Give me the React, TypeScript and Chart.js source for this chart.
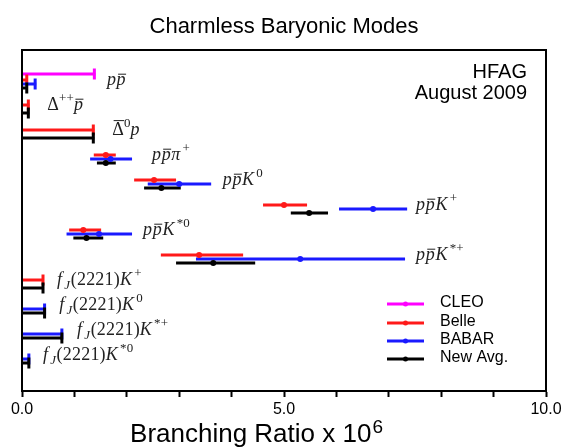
import React, { useEffect, useRef } from "react";
import { Chart, registerables } from "chart.js";

Chart.register(...registerables);

// ---- Data ----
const N = null;
const modeLabels = [
  "p~p",
  "Δ^{++}~p",
  "~Δ^{0}p",
  "p~pπ^{+}",
  "p~pK^{0}",
  "p~pK^{+}",
  "p~pK^{*0}",
  "p~pK^{*+}",
  "f_{J}(2221)K^{+}",
  "f_{J}(2221)K^{0}",
  "f_{J}(2221)K^{*+}",
  "f_{J}(2221)K^{*0}",
];
// label anchor (left edge) in branching-ratio units
const labelX = [1.62, 0.48, 1.72, 2.48, 3.83, 7.52, 2.31, 7.52, 0.67, 0.71, 1.05, 0.4];

const experiments = ["CLEO", "Belle", "BABAR", "New Avg."];

const cleoCentral = [N, N, N, N, N, N, N, N, N, N, N, N];
const cleoLow = [N, N, N, N, N, N, N, N, N, N, N, N];
const cleoHigh = [N, N, N, N, N, N, N, N, N, N, N, N];
const cleoLimit = [1.4, N, N, N, N, N, N, N, N, N, N, N];

const belleCentral = [N, N, N, 1.6, 2.52, 5.0, 1.17, 3.38, N, N, N, N];
const belleLow = [N, N, N, 1.37, 2.14, 4.6, 0.9, 2.65, N, N, N, N];
const belleHigh = [N, N, N, 1.79, 2.94, 5.44, 1.51, 4.22, N, N, N, N];
const belleLimit = [0.11, 0.14, 1.38, N, N, N, N, N, 0.42, N, N, N];

const babarCentral = [N, N, N, 1.69, 3.0, 6.7, 1.47, 5.31, N, N, N, N];
const babarLow = [N, N, N, 1.3, 2.4, 6.05, 0.85, 3.32, N, N, N, N];
const babarHigh = [N, N, N, 2.1, 3.61, 7.35, 2.1, 7.31, N, N, N, N];
const babarLimit = [0.27, N, N, N, N, N, N, N, N, 0.45, 0.78, 0.15];

const avgCentral = [N, N, N, 1.6, 2.66, 5.48, 1.23, 3.65, N, N, N, N];
const avgLow = [N, N, N, 1.43, 2.33, 5.13, 0.98, 2.94, N, N, N, N];
const avgHigh = [N, N, N, 1.79, 3.03, 5.84, 1.55, 4.45, N, N, N, N];
const avgLimit = [0.11, 0.14, 1.38, N, N, N, N, N, 0.42, 0.45, 0.78, 0.15];

const xLabeledTicks = [0, 5, 10];

const titleText = "Charmless Baryonic Modes";
const axisText = "Branching Ratio x 10";
const axisSup = "6";
const noteLines = ["HFAG", "August 2009"];

// ---- Styling ----
const colors = ["#ff00ff", "#ff1a1a", "#1a1aff", "#000000"];
const rowOffsets = [-0.4, -0.16, 0, 0.16];
const ROW_BASE = 1.36;
const Y_MAX = 13.64;

const expData = [
  { central: cleoCentral, low: cleoLow, high: cleoHigh, limit: cleoLimit },
  { central: belleCentral, low: belleLow, high: belleHigh, limit: belleLimit },
  { central: babarCentral, low: babarLow, high: babarHigh, limit: babarLimit },
  { central: avgCentral, low: avgLow, high: avgHigh, limit: avgLimit },
];

function drawRich(ctx: CanvasRenderingContext2D, src: string, x: number, y: number, size: number) {
  const tokens: { ch: string; mode: string; over: boolean }[] = [];
  let mode = "n";
  let over = false;
  let i = 0;
  while (i < src.length) {
    const c = src[i];
    if (c === "^" || c === "_") {
      mode = c === "^" ? "sup" : "sub";
      i += 2;
      continue;
    }
    if (c === "}") {
      mode = "n";
      i++;
      continue;
    }
    if (c === "~") {
      over = true;
      i++;
      continue;
    }
    tokens.push({ ch: c, mode, over });
    over = false;
    i++;
  }
  let cx = x;
  let prevMode = "n";
  let prevItalic = false;
  ctx.fillStyle = "#222";
  ctx.strokeStyle = "#222";
  ctx.textBaseline = "alphabetic";
  ctx.textAlign = "left";
  for (const t of tokens) {
    const s = t.mode === "n" ? size : size * 0.72;
    const dy = t.mode === "sup" ? -size * 0.42 : t.mode === "sub" ? size * 0.2 : 0;
    const italic = /[A-Za-zπ]/.test(t.ch);
    if (t.mode !== "n" && prevMode === "n" && prevItalic) cx += 1.5;
    ctx.font = `${italic ? "italic " : ""}${s}px "Liberation Serif"`;
    ctx.fillText(t.ch, cx, y + dy);
    const w = ctx.measureText(t.ch).width;
    if (t.over) {
      const top = /[a-zπ]/.test(t.ch) ? y + dy - s * 0.6 : y + dy - s * 0.8;
      ctx.lineWidth = 1;
      ctx.beginPath();
      ctx.moveTo(cx + 1.5, top);
      ctx.lineTo(cx + w + 0.5, top);
      ctx.stroke();
    }
    cx += w + (italic ? 0.7 : 0.2);
    prevMode = t.mode;
    prevItalic = italic;
  }
}

const hfagPlugin = {
  id: "hfag",
  beforeDatasetsDraw(chart: any) {
    const ctx: CanvasRenderingContext2D = chart.ctx;
    const xs = chart.scales.x;
    const ys = chart.scales.y;
    ctx.save();
    ctx.lineCap = "butt";
    expData.forEach((d, e) => {
      ctx.strokeStyle = colors[e];
      ctx.lineWidth = 3;
      for (let i = 0; i < modeLabels.length; i++) {
        const y = ys.getPixelForValue(i + ROW_BASE + rowOffsets[e]);
        if (d.central[i] != null) {
          ctx.beginPath();
          ctx.moveTo(xs.getPixelForValue(d.low[i]), y);
          ctx.lineTo(xs.getPixelForValue(d.high[i]), y);
          ctx.stroke();
        }
        if (d.limit[i] != null) {
          const xl = xs.getPixelForValue(d.limit[i]);
          ctx.beginPath();
          ctx.moveTo(xs.getPixelForValue(0), y);
          ctx.lineTo(xl, y);
          ctx.stroke();
          ctx.beginPath();
          ctx.moveTo(xl - 1, y - 5.5);
          ctx.lineTo(xl - 1, y + 5.5);
          ctx.stroke();
        }
      }
    });
    ctx.restore();
  },
  afterDraw(chart: any) {
    const ctx: CanvasRenderingContext2D = chart.ctx;
    const xs = chart.scales.x;
    const ys = chart.scales.y;
    const a = chart.chartArea;
    ctx.save();
    // frame
    ctx.strokeStyle = "#000";
    ctx.lineWidth = 2;
    ctx.strokeRect(a.left, a.top, a.right - a.left, a.bottom - a.top);

    // mode labels
    modeLabels.forEach((lab, i) => {
      drawRich(ctx, lab, xs.getPixelForValue(labelX[i]), ys.getPixelForValue(i + ROW_BASE) + 1, 18);
    });

    // title
    ctx.fillStyle = "#000";
    ctx.textAlign = "center";
    ctx.textBaseline = "alphabetic";
    ctx.font = '22px "Liberation Sans"';
    ctx.fillText(titleText, (a.left + a.right) / 2, 33);

    // axis title with superscript
    ctx.font = '26px "Liberation Sans"';
    const w1 = ctx.measureText(axisText).width;
    ctx.font = '19px "Liberation Sans"';
    const w2 = ctx.measureText(axisSup).width;
    const start = 256 - (w1 + w2) / 2;
    ctx.textAlign = "left";
    ctx.font = '26px "Liberation Sans"';
    ctx.fillText(axisText, start, 442);
    ctx.font = '19px "Liberation Sans"';
    ctx.fillText(axisSup, start + w1 + 1, 433);

    // HFAG note
    ctx.textAlign = "right";
    ctx.font = '20px "Liberation Sans"';
    ctx.fillText(noteLines[0], 527, 78);
    ctx.fillText(noteLines[1], 527, 99);

    // legend
    const legY = [304, 323, 341, 359];
    ctx.textAlign = "left";
    ctx.font = '16px "Liberation Sans"';
    experiments.forEach((name, e) => {
      const y = legY[e];
      ctx.strokeStyle = colors[e];
      ctx.lineWidth = 3;
      ctx.beginPath();
      ctx.moveTo(387, y);
      ctx.lineTo(424, y);
      ctx.stroke();
      ctx.fillStyle = colors[e];
      ctx.beginPath();
      ctx.arc(405.5, y, 2.5, 0, Math.PI * 2);
      ctx.fill();
      ctx.fillStyle = "#000";
      ctx.fillText(name, 440, y + 3);
    });
    ctx.restore();
  },
};

export default function App() {
  const ref = useRef<HTMLCanvasElement | null>(null);
  useEffect(() => {
    if (!ref.current) return;
    const datasets = expData.map((d, e) => ({
      label: experiments[e],
      data: d.central
        .map((v, i) => (v == null ? null : { x: v, y: i + ROW_BASE + rowOffsets[e] }))
        .filter((p) => p != null) as { x: number; y: number }[],
      showLine: false,
      pointRadius: 3,
      pointHoverRadius: 3,
      pointBorderWidth: 0,
      pointBackgroundColor: colors[e],
      borderColor: colors[e],
      backgroundColor: colors[e],
    }));
    const chart = new Chart(ref.current, {
      type: "scatter",
      data: { datasets },
      plugins: [hfagPlugin],
      options: {
        responsive: false,
        animation: false,
        layout: { padding: { left: 22, right: 22, top: 50, bottom: 0 } },
        plugins: {
          legend: { display: false },
          tooltip: { enabled: false },
          title: { display: false },
        },
        scales: {
          x: {
            type: "linear",
            min: 0,
            max: 10,
            afterFit: (s: any) => {
              s.height = 57;
            },
            ticks: {
              stepSize: 1,
              autoSkip: false,
              maxRotation: 0,
              padding: 3,
              color: "#000",
              font: { family: "Liberation Sans", size: 16 },
              callback: (v: any) => (xLabeledTicks.includes(Number(v)) ? Number(v).toFixed(1) : ""),
            },
            grid: {
              drawOnChartArea: false,
              drawTicks: true,
              tickLength: 6,
              tickWidth: 2,
              tickColor: "#000",
            },
            border: { display: true, color: "#000", width: 2 },
            title: { display: false },
          },
          y: {
            type: "linear",
            display: false,
            reverse: true,
            min: 0,
            max: Y_MAX,
          },
        },
      },
    });
    return () => chart.destroy();
  }, []);
  return (
    <div style={{ position: "fixed", left: 0, top: 0, width: 568, height: 448, background: "#fff" }}>
      <canvas ref={ref} width={568} height={448} style={{ width: 568, height: 448 }} />
    </div>
  );
}
